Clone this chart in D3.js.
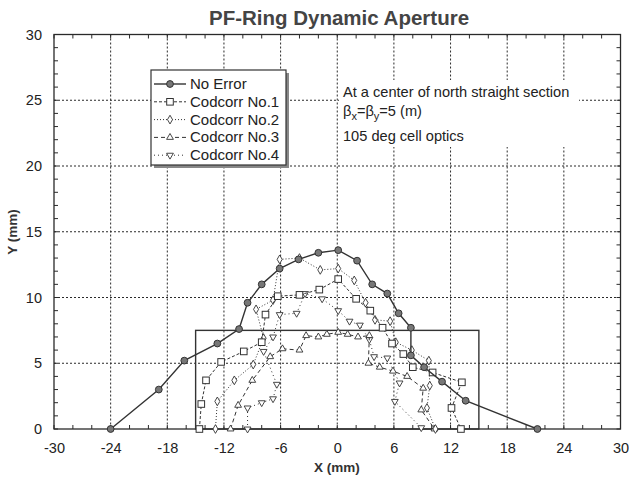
<!DOCTYPE html>
<html><head><meta charset="utf-8">
<script src="https://cdn.jsdelivr.net/npm/d3@7"></script>
<style>body{margin:0;background:#fff;} text{font-family:"Liberation Sans",Arial,Helvetica,sans-serif;}</style>
</head><body><svg id="c" width="629" height="478"></svg>
<script>
const title = "PF-Ring Dynamic Aperture";
const xLabel = "X (mm)";
const yLabel = "Y (mm)";
const xTicks = [-30,-24,-18,-12,-6,0,6,12,18,24,30];
const yTicks = [0,5,10,15,20,25,30];
const seriesNames = ["No Error","Codcorr No.1","Codcorr No.2","Codcorr No.3","Codcorr No.4"];
const noError = [[-24,0],[-18.9,3.0],[-16.2,5.2],[-12.7,6.5],[-10.4,7.6],[-9.5,9.6],[-8.0,11.0],[-6.1,12.2],[-4.1,12.9],[-2.0,13.4],[0.1,13.6],[2.1,12.8],[3.7,11.0],[5.3,10.3],[6.5,8.8],[7.8,7.7],[7.8,5.6],[9.2,4.7],[11.1,3.6],[13.6,2.15],[21.2,0]];
const codcorr1 = [[-14.6,0],[-14.4,1.9],[-13.9,3.7],[-12.3,5.1],[-9.9,5.9],[-8.0,6.6],[-7.6,8.7],[-6.3,10.1],[-4.0,10.2],[-1.9,10.6],[0.1,11.4],[2.0,9.9],[3.5,9.0],[4.8,7.7],[5.8,6.5],[7.0,5.7],[8.0,4.7],[10.1,4.3],[13.2,3.55],[12.1,1.6],[13.1,0]];
const codcorr2 = [[-12.9,0],[-12.7,2.1],[-10.9,3.7],[-8.9,4.9],[-7.8,6.9],[-8.6,9.1],[-6.8,9.8],[-6.1,12.9],[-4.0,13.0],[-1.8,12.1],[0.1,12.2],[1.8,11.3],[3.0,9.6],[4.0,8.3],[5.6,8.2],[6.2,6.6],[7.9,6.0],[9.7,5.2],[9.8,3.3],[9.5,1.6],[10.4,0]];
const codcorr3 = [[-11.3,0],[-10.5,1.8],[-9.0,3.7],[-7.1,5.5],[-5.8,6.1],[-4.0,6.0],[-3.3,7.1],[-2.0,7.0],[-1.1,7.2],[0.1,7.35],[1.1,7.2],[2.2,7.0],[3.4,7.1],[3.3,5.0],[4.5,4.7],[5.9,4.4],[7.4,4.0],[9.1,3.1],[8.9,1.45],[10.3,0]];
const codcorr4 = [[-9.5,0],[-9.5,1.6],[-8.0,2.0],[-6.8,2.3],[-6.4,3.4],[-7.8,5.9],[-6.8,7.0],[-6.1,8.7],[-4.3,8.8],[-3.4,10.3],[-1.6,9.9],[0.1,9.0],[1.3,8.2],[2.4,7.9],[3.4,6.8],[3.9,5.5],[5.3,5.4],[6.6,3.5],[6.1,2.1],[8.9,0.1]];
const apertureBox = [[-15,0],[15,7.5]];
const noteLines = ["At a center of north straight section","105 deg cell optics"];

const svg = d3.select("#c");
const L=54, R=620.5, T=34.5, B=429;
const x = d3.scaleLinear().domain([-30,30]).range([L,R]);
const y = d3.scaleLinear().domain([0,30]).range([B,T]);
const ink = "#2a2a2a";

// grid
const g = svg.append("g");
g.selectAll(".gx").data(xTicks.slice(1,-1)).enter().append("line")
 .attr("x1",d=>x(d)).attr("x2",d=>x(d)).attr("y1",T).attr("y2",B)
 .attr("stroke",ink).attr("stroke-width",1).attr("stroke-dasharray","2,2");
g.selectAll(".gy").data(yTicks.slice(1,-1)).enter().append("line")
 .attr("y1",d=>y(d)).attr("y2",d=>y(d)).attr("x1",L).attr("x2",R)
 .attr("stroke",ink).attr("stroke-width",1).attr("stroke-dasharray","2,2");

// minor ticks (inside, all four sides)
const xMinor = d3.range(-30,31,2), yMinor = d3.range(0,31,1);
const tk = svg.append("g").attr("stroke",ink).attr("stroke-width",1);
xMinor.forEach(v=>{
  tk.append("line").attr("x1",x(v)).attr("x2",x(v)).attr("y1",B).attr("y2",B-4);
  tk.append("line").attr("x1",x(v)).attr("x2",x(v)).attr("y1",T).attr("y2",T+4);
});
yMinor.forEach(v=>{
  tk.append("line").attr("y1",y(v)).attr("y2",y(v)).attr("x1",L).attr("x2",L+4);
  tk.append("line").attr("y1",y(v)).attr("y2",y(v)).attr("x1",R).attr("x2",R-4);
});

// aperture rectangle
svg.append("rect").attr("x",x(apertureBox[0][0])).attr("y",y(apertureBox[1][1]))
 .attr("width",x(apertureBox[1][0])-x(apertureBox[0][0]))
 .attr("height",y(apertureBox[0][1])-y(apertureBox[1][1]))
 .attr("fill","none").attr("stroke","#333").attr("stroke-width",1.4);

// frame
svg.append("rect").attr("x",L).attr("y",T).attr("width",R-L).attr("height",B-T)
 .attr("fill","none").attr("stroke",ink).attr("stroke-width",1.3);

// axes labels via d3 axes (text only)
const fmt = d=>String(d);
const xAxis = d3.axisBottom(x).tickValues(xTicks).tickFormat(fmt).tickSize(0).tickPadding(14);
const xa = svg.append("g").attr("transform",`translate(0,${B})`).call(xAxis);
xa.select(".domain").remove();
xa.selectAll("text").attr("font-size",14.5).attr("fill","#222").style("font-family","'Liberation Sans',Arial,sans-serif");
const yAxis = d3.axisLeft(y).tickValues(yTicks).tickFormat(fmt).tickSize(0).tickPadding(12);
const ya = svg.append("g").attr("transform",`translate(${L},0)`).call(yAxis);
ya.select(".domain").remove();
ya.selectAll("text").attr("font-size",14.5).attr("fill","#222").style("font-family","'Liberation Sans',Arial,sans-serif");

// series
const line = d3.line().x(d=>x(d[0])).y(d=>y(d[1]));
const styles = [
  {data:noError, dash:null, w:1.4, sym:"circle"},
  {data:codcorr1, dash:"3,2", w:1, sym:"square"},
  {data:codcorr2, dash:"1,2", w:1, sym:"diamond"},
  {data:codcorr3, dash:"4,3", w:1, sym:"tri"},
  {data:codcorr4, dash:"1,3", w:1, sym:"itri"}
];
function drawMarker(sel, sym, px, py){
  if(sym==="circle"){
    sel.append("circle").attr("cx",px).attr("cy",py).attr("r",3.4).attr("fill","#777").attr("stroke","#333").attr("stroke-width",1);
  } else if(sym==="square"){
    sel.append("rect").attr("x",px-3.3).attr("y",py-3.3).attr("width",6.6).attr("height",6.6).attr("fill","#fff").attr("stroke","#333").attr("stroke-width",1);
  } else if(sym==="diamond"){
    sel.append("path").attr("d",d3.symbol(d3.symbolDiamond,22)()).attr("transform",`translate(${px},${py})`).attr("fill","#fff").attr("stroke","#333").attr("stroke-width",0.9);
  } else if(sym==="tri"){
    sel.append("path").attr("d",d3.symbol(d3.symbolTriangle,20)()).attr("transform",`translate(${px},${py})`).attr("fill","#fff").attr("stroke","#333").attr("stroke-width",0.9);
  } else {
    sel.append("path").attr("d",d3.symbol(d3.symbolTriangle,20)()).attr("transform",`translate(${px},${py}) rotate(180)`).attr("fill","#fff").attr("stroke","#333").attr("stroke-width",0.9);
  }
}
for(let i=styles.length-1;i>=0;i--){
  const s = styles[i];
  const gs = svg.append("g");
  gs.append("path").attr("d",line(s.data)).attr("fill","none").attr("stroke","#333")
    .attr("stroke-width",s.w).attr("stroke-dasharray",s.dash);
  s.data.forEach(d=>drawMarker(gs,s.sym,x(d[0]),y(d[1])));
}

// note box
const nb = svg.append("g");
nb.append("rect").attr("x",339).attr("y",80).attr("width",240).attr("height",67).attr("fill","#fff");
nb.append("text").attr("x",343).attr("y",97).attr("font-size",14.6).attr("fill","#222").text(noteLines[0]);
const bt = nb.append("text").attr("x",343).attr("y",116).attr("font-size",14.6).attr("fill","#222");
bt.append("tspan").text("β");
bt.append("tspan").attr("dy",4).attr("font-size",11).text("x");
bt.append("tspan").attr("dy",-4).text("=β");
bt.append("tspan").attr("dy",4).attr("font-size",11).text("y");
bt.append("tspan").attr("dy",-4).text("=5 (m)");
nb.append("text").attr("x",343).attr("y",141).attr("font-size",14.6).attr("fill","#222").text(noteLines[1]);

// legend
const lg = svg.append("g");
lg.append("rect").attr("x",154).attr("y",73).attr("width",135).attr("height",95).attr("fill","#888");
lg.append("rect").attr("x",151).attr("y",70).attr("width",135).attr("height",95).attr("fill","#fff").attr("stroke","#333").attr("stroke-width",1.2);
seriesNames.forEach((n,i)=>{
  const yy = 84 + i*17.8;
  lg.append("line").attr("x1",154).attr("x2",186).attr("y1",yy).attr("y2",yy)
    .attr("stroke","#333").attr("stroke-width",styles[i].w).attr("stroke-dasharray",styles[i].dash);
  drawMarker(lg, styles[i].sym, 170, yy);
  lg.append("text").attr("x",190).attr("y",yy+5).attr("font-size",15).attr("fill","#222").text(n);
});

// title and axis titles
svg.append("text").attr("x",339).attr("y",25).attr("text-anchor","middle").attr("font-size",20.5).attr("font-weight","bold").attr("fill","#444").text(title);
svg.append("text").attr("x",337).attr("y",472).attr("text-anchor","middle").attr("font-size",13.5).attr("font-weight","bold").attr("fill","#333").text(xLabel);
svg.append("text").attr("transform","translate(17,232) rotate(-90)").attr("text-anchor","middle").attr("font-size",13.5).attr("font-weight","bold").attr("fill","#333").text(yLabel);
</script></body></html>
